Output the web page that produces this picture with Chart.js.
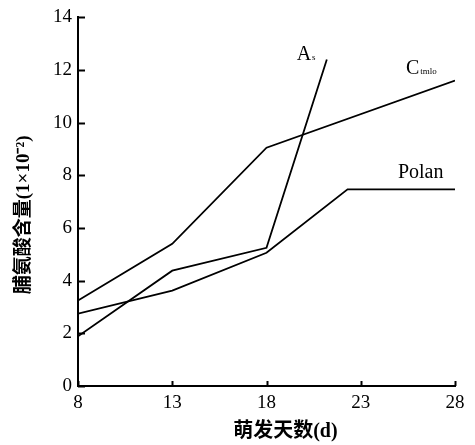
<!DOCTYPE html>
<html><head><meta charset="utf-8">
<script src="https://cdn.jsdelivr.net/npm/chart.js@4.4.0/dist/chart.umd.min.js"></script>
<style>html,body{margin:0;padding:0;background:#fff}#wrap{width:475px;height:445px}</style>
</head><body><div id="wrap"><canvas id="c" width="475" height="445"></canvas></div>
<script>
const xTicks = [8, 13, 18, 23, 28];
const yTicks = [0, 2, 4, 6, 8, 10, 12, 14];
const seriesNames = ['C', 'As', 'Polan'];
const cDays = [8, 13, 18, 28];
const cValues = [3.25, 5.4, 9.05, 11.6];
const aDays = [8, 13, 18, 21.2];
const aValues = [1.89, 4.38, 5.25, 12.4];
const pDays = [8, 13, 18, 22.3, 28];
const pValues = [2.75, 3.62, 5.06, 7.47, 7.47];
const xTitle = '萌发天数(d)';
const yTitle = '脯氨酸含量(1×10⁻²)';
// labels: main text, subscript, anchored at data coordinates
const lineLabels = [
  {main: 'A', sub: 's', x: 19.6, y: 12.38},
  {main: 'C', sub: 'tmlo', x: 25.4, y: 11.85},
  {main: 'Polan', sub: '', x: 24.97, y: 7.89}
];

function pts(xs, ys){ return xs.map((x,i)=>({x:x, y:ys[i]})); }

const serif = "'Liberation Serif','DejaVu Serif',serif";
const cjk = "'Liberation Serif','Noto Sans CJK SC',sans-serif";

const decor = {
  id: 'decor',
  afterDraw(chart){
    const ctx = chart.ctx, xs = chart.scales.x, ys = chart.scales.y;
    ctx.save();
    ctx.strokeStyle = '#000'; ctx.lineWidth = 2;
    // inside ticks
    yTicks.forEach(v=>{
      const py = Math.round(ys.getPixelForValue(v)) + 0.5;
      ctx.beginPath(); ctx.moveTo(xs.left, py); ctx.lineTo(xs.left + 7, py); ctx.stroke();
    });
    xTicks.forEach(v=>{
      const px = Math.round(xs.getPixelForValue(v)) + 0.5;
      ctx.beginPath(); ctx.moveTo(px, ys.bottom); ctx.lineTo(px, ys.bottom - 5); ctx.stroke();
    });
    // line labels
    ctx.fillStyle = '#000'; ctx.textBaseline = 'alphabetic'; ctx.textAlign = 'left';
    lineLabels.forEach(l=>{
      const px = xs.getPixelForValue(l.x), py = ys.getPixelForValue(l.y);
      ctx.font = '20px ' + serif;
      ctx.fillText(l.main, px, py);
      const w = ctx.measureText(l.main).width;
      if (l.sub){ ctx.font = '9px ' + serif; ctx.fillText(l.sub, px + w + 1, py); }
    });
    // axis titles
    ctx.textAlign = 'center'; ctx.textBaseline = 'middle';
    ctx.font = 'bold 20px ' + cjk;
    ctx.fillText(xTitle, xs.getPixelForValue(19), 432);
    ctx.save();
    ctx.translate(24, ys.getPixelForValue(6.5));
    ctx.rotate(-Math.PI/2);
    ctx.font = 'bold 19px ' + cjk;
    ctx.fillText(yTitle, 0, 0);
    ctx.restore();
    ctx.restore();
  }
};

const lineStyle = {borderColor:'#000', borderWidth:1.8, pointRadius:0, showLine:true, fill:false, tension:0};

new Chart(document.getElementById('c'), {
  type: 'scatter',
  data: { datasets: [
    Object.assign({label: seriesNames[0], data: pts(cDays, cValues)}, lineStyle),
    Object.assign({label: seriesNames[1], data: pts(aDays, aValues)}, lineStyle),
    Object.assign({label: seriesNames[2], data: pts(pDays, pValues)}, lineStyle)
  ]},
  options: {
    responsive: false, animation: false, devicePixelRatio: 1,
    layout: {padding: {top: 15, right: 20, left: 0, bottom: 0}},
    plugins: {legend: {display: false}, tooltip: {enabled: false}},
    scales: {
      x: {
        type: 'linear', min: 8, max: 28,
        afterBuildTicks(s){ s.ticks = xTicks.map(v=>({value:v})); },
        afterFit(s){ s.height = 59; },
        grid: {display: true, drawOnChartArea: false, drawTicks: false},
        border: {display: true, color: '#000', width: 2},
        ticks: {color: '#000', padding: 6, font: {family: serif, size: 19}, maxRotation: 0}
      },
      y: {
        type: 'linear', min: 0, max: 14,
        afterBuildTicks(s){ s.ticks = yTicks.map(v=>({value:v})); },
        afterFit(s){ s.width = 78; },
        grid: {display: true, drawOnChartArea: false, drawTicks: false},
        border: {display: true, color: '#000', width: 2},
        ticks: {color: '#000', padding: 6, font: {family: serif, size: 19}}
      }
    }
  },
  plugins: [decor]
});
</script></body></html>
